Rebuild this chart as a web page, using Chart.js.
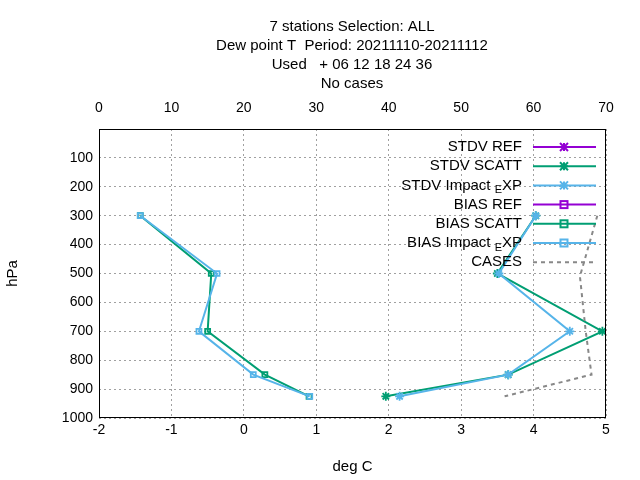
<!DOCTYPE html>
<html><head><meta charset="utf-8">
<script src="https://cdn.jsdelivr.net/npm/chart.js@4"></script>
<style>body{margin:0;background:#fff}#w{width:640px;height:480px}</style>
</head><body><div id="w"><canvas id="c"></canvas></div>
<script>
const levels = [300, 500, 700, 850, 925];
const stdvRef = [];
const stdvScatt = [4.03, 3.50, 4.95, 3.65, 1.96];
const stdvImpact = [4.03, 3.52, 4.50, 3.65, 2.15];
const biasRef = [];
const biasScatt = [-1.43, -0.45, -0.50, 0.29, 0.90];
const biasImpact = [-1.43, -0.37, -0.62, 0.13, 0.91];
const casesLevels = [300, 510, 700, 850, 925];
const cases = [68.8, 66.4, 67.2, 68.0, 56.0];
const titleLines = ["7 stations Selection: ALL", "Dew point T  Period: 20211110-20211112", "Used   + 06 12 18 24 36", "No cases"];
const legendLabels = ["STDV REF", "STDV SCATT", "STDV Impact_EXP", "BIAS REF", "BIAS SCATT", "BIAS Impact_EXP", "CASES"];

const PURPLE = '#9400d3', GREEN = '#009e73', BLUE = '#56b4e9', GREY = '#888888';
const mk = (vals, lv) => vals.map((v, i) => ({x: v, y: lv[i]}));
let ord = 0;
function ds(label, vals, color, style) {
  return {label, data: mk(vals, levels), borderColor: color, backgroundColor: 'rgba(0,0,0,0)',
    pointBorderColor: color, pointStyle: style, pointRadius: style === 'rect' ? 3.5 : 4.5,
    pointBorderWidth: 1.8, borderWidth: 2, showLine: true, xAxisID: 'x', order: -(ord++)};
}
const datasets = [
  ds(legendLabels[0], stdvRef, PURPLE, 'star'),
  ds(legendLabels[1], stdvScatt, GREEN, 'star'),
  ds(legendLabels[2], stdvImpact, BLUE, 'star'),
  ds(legendLabels[3], biasRef, PURPLE, 'rect'),
  ds(legendLabels[4], biasScatt, GREEN, 'rect'),
  ds(legendLabels[5], biasImpact, BLUE, 'rect'),
  {label: legendLabels[6], data: mk(cases, casesLevels), borderColor: GREY, borderDash: [4, 4],
   borderWidth: 2, pointRadius: 0, showLine: true, xAxisID: 'x2', order: -10}
];
const FONT = 'Liberation Sans, Arial, sans-serif';
function drawSub(ctx, text, xr, y) {
  const parts = text.split('_');
  if (parts.length === 1) { ctx.textAlign = 'right'; ctx.fillText(text, xr, y); return; }
  const a = parts[0], e = parts[1][0], b = parts[1].slice(1);
  ctx.font = '15px ' + FONT; const wa = ctx.measureText(a + ' ').width, wb = ctx.measureText(b).width;
  ctx.font = '11px ' + FONT; const we = ctx.measureText(e).width;
  let x = xr - wa - we - wb; ctx.textAlign = 'left';
  ctx.font = '15px ' + FONT; ctx.fillText(a + ' ', x, y); x += wa;
  ctx.font = '11px ' + FONT; ctx.fillText(e, x, y + 5); x += we;
  ctx.font = '15px ' + FONT; ctx.fillText(b, x, y);
}
const extra = {
  id: 'extra',
  afterDraw(chart) {
    const ctx = chart.ctx, a = chart.chartArea;
    ctx.save();
    ctx.fillStyle = '#000'; ctx.textBaseline = 'middle'; ctx.font = '15px ' + FONT; ctx.textAlign = 'center';
    titleLines.forEach((t, i) => ctx.fillText(t, 352, 27 + i * 19));
    ctx.strokeStyle = '#000'; ctx.lineWidth = 1; ctx.setLineDash([]);
    ctx.strokeRect(a.left + .5, a.top + .5, a.width - 1, a.height - 1);
    datasets.forEach((d, i) => {
      const y = 147 + i * 19.2;
      ctx.fillStyle = '#000'; ctx.font = '15px ' + FONT;
      drawSub(ctx, d.label, 522, y);
      ctx.strokeStyle = d.borderColor; ctx.lineWidth = 2;
      ctx.setLineDash(d.borderDash || []);
      ctx.beginPath(); ctx.moveTo(533, y); ctx.lineTo(596, y); ctx.stroke();
      ctx.setLineDash([]);
      if (d.pointRadius) {
        const sx = 564;
        if (d.pointStyle === 'rect') { ctx.strokeRect(sx - 3.5, y - 3.5, 7, 7); }
        else { ctx.beginPath(); ctx.moveTo(sx-4,y-4);ctx.lineTo(sx+4,y+4);ctx.moveTo(sx+4,y-4);ctx.lineTo(sx-4,y+4);
          ctx.moveTo(sx,y-4);ctx.lineTo(sx,y+4);ctx.moveTo(sx-4,y);ctx.lineTo(sx+4,y);ctx.stroke(); }
      }
    });
    ctx.restore();
  }
};
new Chart(document.getElementById('c'), {
  type: 'scatter',
  data: {datasets},
  options: {
    responsive: true, maintainAspectRatio: false, animation: false,
    layout: {padding: {left: 0, right: 34, top: 0, bottom: 0}},
    plugins: {legend: {display: false}, tooltip: {enabled: false}},
    scales: {
      x: {type: 'linear', position: 'bottom', min: -2, max: 5,
        ticks: {stepSize: 1, color: '#000', font: {size: 14, family: FONT}, padding: 4},
        grid: {color: '#a0a0a0', tickLength: 0, drawTicks: false, lineWidth: 1},
        border: {display: false, dash: [2, 3]},
        title: {display: true, text: 'deg C', color: '#000', font: {size: 15, family: FONT}},
        afterFit(s) { s.height = 62; }},
      x2: {type: 'linear', position: 'top', min: 0, max: 70,
        ticks: {stepSize: 10, color: '#000', font: {size: 14, family: FONT}, padding: 4},
        grid: {display: false}, border: {display: false},
        afterFit(s) { s.height = 129; }},
      y: {type: 'linear', reverse: true, min: 0, max: 1000,
        ticks: {stepSize: 100, color: '#000', font: {size: 14, family: FONT}, padding: 6,
          callback: v => v === 0 ? '' : v},
        grid: {color: '#a0a0a0', drawTicks: false, lineWidth: 1},
        border: {display: false, dash: [2, 3]},
        title: {display: true, text: 'hPa', color: '#000', font: {size: 15, family: FONT}},
        afterFit(s) { s.width = 99; }}
    }
  },
  plugins: [extra]
});
</script></body></html>
